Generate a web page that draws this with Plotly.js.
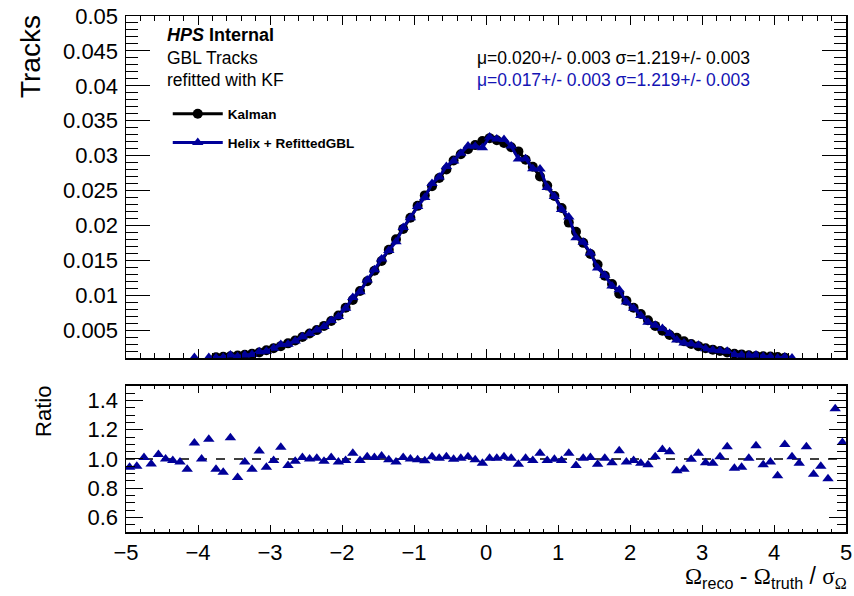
<!DOCTYPE html>
<html>
<head>
<meta charset="utf-8">
<script src="https://cdn.plot.ly/plotly-3.0.1.min.js"></script>
<style>html,body{margin:0;padding:0;background:#fff;}#chart{width:854px;height:596px;}</style>
</head>
<body>
<div id="chart"></div>
<script>
// Histogram binning: 100 bins from -5 to 5
const binLow = -5;
const binWidth = 0.1;
const nBins = 100;

// Kalman (normalised tracks per bin)
const kalman = [
  0.00060,0.00062,0.00065,0.00068,0.00070,0.00073,0.00077,0.00082,0.00088,0.00097,
  0.00098,0.00096,0.00112,0.00118,0.00124,0.00136,0.00146,0.00160,0.00180,0.00210,
  0.00240,0.00270,0.00310,0.00350,0.00400,0.00450,0.00500,0.00560,0.00630,0.00710,
  0.00820,0.00930,0.01060,0.01200,0.01350,0.01490,0.01650,0.01800,0.01950,0.02110,
  0.02280,0.02430,0.02560,0.02680,0.02800,0.02930,0.03020,0.03090,0.03150,0.03210,
  0.03250,0.03220,0.03180,0.03120,0.03060,0.02940,0.02840,0.02700,0.02570,0.02420,
  0.02250,0.02040,0.01910,0.01750,0.01590,0.01440,0.01280,0.01160,0.01020,0.00920,
  0.00820,0.00730,0.00640,0.00560,0.00490,0.00430,0.00390,0.00340,0.00300,0.00270,
  0.00240,0.00220,0.00200,0.00180,0.00160,0.00152,0.00140,0.00130,0.00125,0.00120,
  0.00113,0.00105,0.00098,0.00093,0.00088,0.00084,0.00080,0.00076,0.00070,0.00066
];

// Helix + RefittedGBL
const helix = [
  0.00057,0.00059,0.00066,0.00066,0.00072,0.00073,0.00076,0.00080,0.00082,0.00108,
  0.00098,0.00109,0.00104,0.00107,0.00142,0.00119,0.00143,0.00149,0.00190,0.00198,
  0.00238,0.00292,0.00296,0.00345,0.00404,0.00450,0.00503,0.00552,0.00636,0.00696,
  0.00812,0.00967,0.01049,0.01218,0.01364,0.01520,0.01642,0.01764,0.01970,0.02110,
  0.02269,0.02401,0.02601,0.02693,0.02845,0.02924,0.03035,0.03139,0.03134,0.03114,
  0.03266,0.03236,0.03231,0.03136,0.02950,0.02955,0.02812,0.02808,0.02544,0.02415,
  0.02228,0.02122,0.01824,0.01759,0.01606,0.01388,0.01286,0.01131,0.01077,0.00902,
  0.00812,0.00708,0.00614,0.00569,0.00522,0.00452,0.00359,0.00316,0.00299,0.00281,
  0.00234,0.00213,0.00203,0.00195,0.00150,0.00143,0.00141,0.00142,0.00120,0.00118,
  0.00100,0.00116,0.00100,0.00090,0.00095,0.00075,0.00076,0.00066,0.00094,0.00073
];

// Ratio Helix / Kalman
const ratio = [
  0.944,0.950,1.010,0.966,1.030,1.000,0.990,0.980,0.930,1.110,
  1.000,1.135,0.930,0.910,1.145,0.873,0.980,0.930,1.054,0.944,
  0.990,1.080,0.955,0.985,1.010,1.000,1.005,0.985,1.010,0.980,
  0.990,1.040,0.990,1.015,1.010,1.020,0.995,0.980,1.010,1.000,
  0.995,0.988,1.016,1.005,1.016,0.998,1.005,1.016,0.995,0.970,
  1.005,1.005,1.016,1.005,0.964,1.005,0.990,1.040,0.990,0.998,
  0.990,1.040,0.955,1.005,1.010,0.964,1.005,0.975,1.056,0.980,
  0.990,0.970,0.960,1.016,1.065,1.050,0.920,0.930,0.998,1.040,
  0.975,0.970,1.016,1.083,0.937,0.944,1.005,1.090,0.960,0.980,
  0.885,1.100,1.016,0.970,1.083,0.896,0.950,0.864,1.344,1.113
];

const topTickVals = [0.005,0.01,0.015,0.02,0.025,0.03,0.035,0.04,0.045,0.05];
const topTickText = ['0.005','0.01','0.015','0.02','0.025','0.03','0.035','0.04','0.045','0.05'];
const ratioTickVals = [0.6,0.8,1.0,1.2,1.4];
const ratioTickText = ['0.6','0.8','1.0','1.2','1.4'];

const topMin = 0.001, topMax = 0.05;

const centers = [];
for (let i = 0; i < nBins; i++) centers.push(+(binLow + (i + 0.5) * binWidth).toFixed(2));
// Like ROOT, bins below the displayed minimum are not drawn in the upper pad
const visible = arr => arr.map(v => (v >= topMin ? v : null));

const blue = '#000099';
const font = 'Liberation Sans, Arial, Helvetica, sans-serif';

const traces = [
  {x: centers, y: visible(kalman), type: 'scatter', mode: 'lines+markers', name: '<b>Kalman</b>',
   connectgaps: false, legendgroup: 'k', line: {color: '#000', width: 3}, marker: {symbol: 'circle', size: 10, color: '#000'},
   xaxis: 'x', yaxis: 'y'},
  {x: centers, y: visible(helix), type: 'scatter', mode: 'lines+markers', name: '<b>Helix + RefittedGBL</b>',
   connectgaps: false, legendgroup: 'h', line: {color: blue, width: 3}, marker: {symbol: 'triangle-up', size: 10, color: blue},
   xaxis: 'x', yaxis: 'y'},
  {x: centers, y: ratio, type: 'scatter', mode: 'markers', showlegend: false,
   marker: {symbol: 'triangle-up', size: 10, color: blue}, xaxis: 'x2', yaxis: 'y2'}
];

const axBase = {showline: true, linecolor: '#000', linewidth: 1.5, mirror: 'ticks', ticks: 'inside',
  tickcolor: '#000', showgrid: false, zeroline: false, tickfont: {family: font, size: 22, color: '#000'}};

const layout = {
  width: 854, height: 596,
  margin: {l: 126, r: 8, t: 16, b: 64},
  paper_bgcolor: '#fff', plot_bgcolor: '#fff',
  font: {family: font, color: '#000'},
  showlegend: true,
  legend: {x: 0.058, y: 0.84, xanchor: 'left', yanchor: 'top', bgcolor: 'rgba(0,0,0,0)', itemwidth: 50,
    font: {family: font, size: 13.5, color: '#000'}, traceorder: 'grouped', tracegroupgap: 8},
  xaxis: Object.assign({}, axBase, {domain: [0, 1], anchor: 'y', range: [-5, 5], dtick: 1, tick0: 0,
    ticklen: 9, showticklabels: false, minor: {dtick: 0.2, tick0: 0, ticklen: 5, ticks: 'inside', tickcolor: '#000'}}),
  yaxis: Object.assign({}, axBase, {domain: [0.3372, 1], anchor: 'x', range: [topMin, topMax],
    tickmode: 'array', tickvals: topTickVals, ticktext: topTickText, ticklen: 24, ticklabelstandoff: 2,
    minor: {dtick: 0.001, tick0: 0, ticklen: 12, ticks: 'inside', tickcolor: '#000'}}),
  xaxis2: Object.assign({}, axBase, {domain: [0, 1], anchor: 'y2', range: [-5, 5], dtick: 1, tick0: 0,
    ticklen: 7, matches: 'x', minor: {dtick: 0.2, tick0: 0, ticklen: 3.5, ticks: 'inside', tickcolor: '#000'}}),
  yaxis2: Object.assign({}, axBase, {domain: [0, 0.283], anchor: 'x2', range: [0.5, 1.5],
    tickmode: 'array', tickvals: ratioTickVals, ticktext: ratioTickText, ticklen: 17, ticklabelstandoff: 2,
    minor: {dtick: 0.05, tick0: 0, ticklen: 9, ticks: 'inside', tickcolor: '#000'}}),
  shapes: [
    {type: 'line', xref: 'x2', yref: 'y2', x0: -5, x1: 5, y0: 1, y1: 1,
     line: {color: '#000', width: 1.5, dash: 'dash'}, layer: 'below'}
  ],
  annotations: [
    {xref: 'paper', yref: 'paper', x: -0.1333, y: 0.9205, text: 'Tracks', textangle: -90, showarrow: false,
     xanchor: 'center', yanchor: 'middle', font: {family: font, size: 28, color: '#000'}},
    {xref: 'paper', yref: 'paper', x: -0.1139, y: 0.2345, text: 'Ratio', textangle: -90, showarrow: false,
     xanchor: 'center', yanchor: 'middle', font: {family: font, size: 22, color: '#000'}},
    {xref: 'paper', yref: 'paper', x: 1.004, y: -0.089, xanchor: 'right', yanchor: 'middle', showarrow: false,
     text: '<span style="font-family:Liberation Serif">Ω</span><sub>reco</sub> - <span style="font-family:Liberation Serif">Ω</span><sub>truth</sub> / <span style="font-family:Liberation Serif">σ</span><sub><span style="font-family:Liberation Serif">Ω</span></sub>',
     font: {family: font, size: 23, color: '#000'}},
    {xref: 'paper', yref: 'paper', x: 0.0542, y: 0.9632, xanchor: 'left', yanchor: 'middle', showarrow: false,
     text: '<b><i>HPS</i> Internal</b>', font: {family: font, size: 18, color: '#000'}},
    {xref: 'paper', yref: 'paper', x: 0.0542, y: 0.918, xanchor: 'left', yanchor: 'middle', showarrow: false,
     text: 'GBL Tracks', font: {family: font, size: 17.5, color: '#000'}},
    {xref: 'paper', yref: 'paper', x: 0.0542, y: 0.876, xanchor: 'left', yanchor: 'middle', showarrow: false,
     text: 'refitted with KF', font: {family: font, size: 17.5, color: '#000'}},
    {xref: 'paper', yref: 'paper', x: 0.4847, y: 0.918, xanchor: 'left', yanchor: 'middle', showarrow: false,
     text: 'μ=0.020+/- 0.003 σ=1.219+/- 0.003', font: {family: font, size: 17.5, color: '#000'}},
    {xref: 'paper', yref: 'paper', x: 0.4847, y: 0.876, xanchor: 'left', yanchor: 'middle', showarrow: false,
     text: 'μ=0.017+/- 0.003 σ=1.219+/- 0.003', font: {family: font, size: 17.5, color: '#1414b4'}}
  ]
};

Plotly.newPlot('chart', traces, layout, {displayModeBar: false, staticPlot: true});
</script>
</body>
</html>
